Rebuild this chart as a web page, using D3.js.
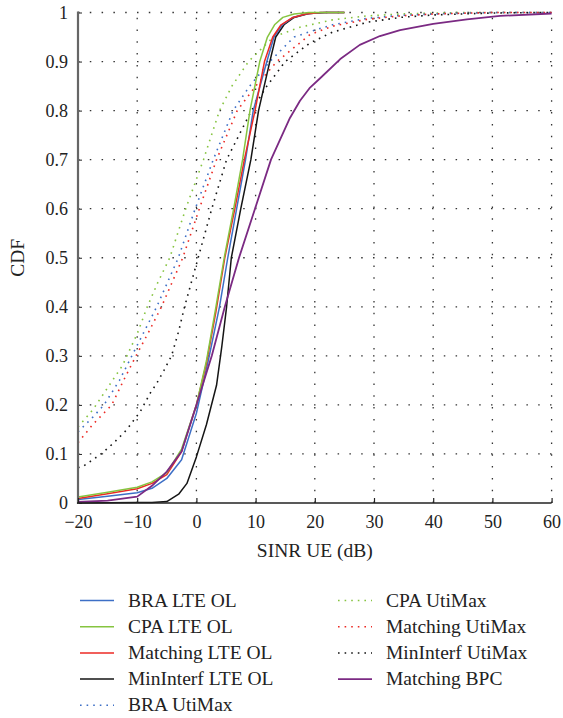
<!DOCTYPE html>
<html>
<head>
<meta charset="utf-8">
<title>CDF of SINR UE</title>
<script src="https://cdn.jsdelivr.net/npm/d3@7"></script>
<style type="text/css">
	body{ margin:0; background:#fff; }
	.domain{ display:none; }
</style>
</head>
<body>
<div id="chart"></div>
<script type="text/javascript">
/* series values: [SINR dB, CDF] */
var bra_lte = [[-20,0.007],[-15,0.014],[-10,0.021],[-7.5,0.03],[-5,0.05],[-2.5,0.088],[0,0.183],[2,0.29],[3.9,0.4],[5.3,0.5],[6.8,0.6],[8.3,0.7],[9.6,0.8],[11.9,0.9],[13.1,0.95],[14.5,0.975],[16.3,0.99],[18.5,0.997],[21,1],[25,1]];
var cpa_lte = [[-20,0.012],[-15,0.022],[-10,0.032],[-7.5,0.043],[-5,0.062],[-2.5,0.11],[0,0.2],[1.7,0.29],[3.3,0.4],[4.7,0.5],[6.3,0.6],[7.8,0.7],[9.05,0.8],[10.7,0.9],[12,0.95],[13.2,0.975],[14.6,0.99],[16.5,0.997],[19,1],[25,1]];
var matching_lte = [[-20,0.009],[-15,0.019],[-10,0.029],[-7.5,0.04],[-5,0.058],[-2.5,0.105],[0,0.2],[1.7,0.285],[3.3,0.39],[4.8,0.5],[6.5,0.6],[8.1,0.7],[9.9,0.8],[11.5,0.9],[12.9,0.95],[14.3,0.975],[16.3,0.99],[18.5,0.997],[21,1],[25,1]];
var mininterf_lte = [[-20,0],[-10,0.001],[-7.5,0.001],[-5,0.003],[-3,0.018],[-1.6,0.04],[0,0.094],[1.7,0.16],[3.4,0.24],[4.3,0.32],[5.1,0.4],[5.9,0.5],[7.5,0.6],[9.2,0.7],[10.5,0.8],[12.4,0.9],[13.4,0.95],[14.8,0.975],[16.5,0.99],[19,0.998],[22,1],[25,1]];
var bra_uti = [[-20,0.145],[-17.5,0.175],[-15.6,0.2],[-13,0.25],[-10.9,0.3],[-8.8,0.35],[-6.7,0.4],[-3.05,0.5],[-0.2,0.6],[2.85,0.7],[6.2,0.8],[9,0.85],[12.4,0.9],[16.5,0.95],[19.2,0.961],[23,0.975],[28.8,0.988],[34.4,0.994],[40,0.997],[50,1],[60,1]];
var cpa_uti = [[-20,0.155],[-17.5,0.19],[-15,0.235],[-12.5,0.28],[-10,0.345],[-8.3,0.4],[-6.5,0.45],[-4.5,0.5],[-1.8,0.6],[1.2,0.7],[3.9,0.8],[6,0.85],[8.8,0.9],[13,0.95],[17.5,0.97],[23,0.985],[28.8,0.993],[34.4,0.997],[45,1],[60,1]];
var matching_uti = [[-20,0.123],[-17.5,0.16],[-14.3,0.2],[-12.3,0.25],[-10.2,0.3],[-8,0.35],[-5.9,0.4],[-2.3,0.5],[0.5,0.6],[3.4,0.7],[6.9,0.8],[10,0.85],[13.6,0.9],[19.2,0.955],[23,0.972],[28.8,0.986],[34.4,0.993],[40,0.997],[50,1],[60,1]];
var mininterf_uti = [[-20,0.072],[-19.1,0.075],[-16.3,0.098],[-14,0.122],[-11.8,0.149],[-9.5,0.186],[-7.8,0.224],[-6.7,0.244],[-5.5,0.27],[-4.2,0.3],[-3,0.35],[-2,0.4],[0.3,0.5],[2.6,0.6],[5.1,0.7],[9.3,0.8],[11.9,0.85],[15,0.9],[19.2,0.938],[23,0.96],[28.8,0.98],[34.4,0.99],[40,0.995],[50,0.999],[60,1]];
var matching_bpc = [[-20,0.002],[-15,0.005],[-10,0.013],[-7.5,0.035],[-5,0.064],[-2.5,0.105],[0,0.2],[2.6,0.3],[4.8,0.4],[7.2,0.5],[9.9,0.6],[12.6,0.7],[15.8,0.785],[17.5,0.82],[19.2,0.847],[20.9,0.866],[24.3,0.905],[27.6,0.934],[31,0.952],[34.4,0.964],[40,0.977],[45.7,0.986],[51.3,0.993],[60,0.998]];

var x_ticks = [-20,-10,0,10,20,30,40,50,60];
var y_ticks = [0,0.1,0.2,0.3,0.4,0.5,0.6,0.7,0.8,0.9,1];

/* legend order: name, data, colour, dotted */
var series = [
	{name:"BRA LTE OL", data:bra_lte, color:"#3d6fc6", dot:false},
	{name:"CPA LTE OL", data:cpa_lte, color:"#86c440", dot:false},
	{name:"Matching LTE OL", data:matching_lte, color:"#ec2a24", dot:false},
	{name:"MinInterf LTE OL", data:mininterf_lte, color:"#151515", dot:false},
	{name:"BRA UtiMax", data:bra_uti, color:"#3d6fc6", dot:true},
	{name:"CPA UtiMax", data:cpa_uti, color:"#86c440", dot:true},
	{name:"Matching UtiMax", data:matching_uti, color:"#ec2a24", dot:true},
	{name:"MinInterf UtiMax", data:mininterf_uti, color:"#151515", dot:true},
	{name:"Matching BPC", data:matching_bpc, color:"#7b2a83", dot:false}
];
/* drawing order: the dotted ones first, BPC after the solid ones */
var draw_order = [5,4,6,7,3,0,2,1,8];
var serif = "Liberation Serif";

var W = 563, H = 718;
var svg = d3.select("#chart").append("svg").attr("width",W).attr("height",H)
	.attr("font-family",serif);

var x_scale = d3.scaleLinear().domain([-20,60]).range([78,551.6]);
var y_scale = d3.scaleLinear().domain([0,1]).range([503,12.5]);

/* dotted grid */
var grid = svg.append("g");
grid.selectAll(".hg").data(y_ticks.slice(1)).enter().append("line")
	.attr("x1",x_scale(-20)).attr("x2",x_scale(60))
	.attr("y1",function(d){ return y_scale(d); }).attr("y2",function(d){ return y_scale(d); })
	.attr("stroke","#333").attr("stroke-width",1.3).attr("stroke-dasharray","1.5,10.3");
grid.selectAll(".vg").data(x_ticks.slice(1)).enter().append("line")
	.attr("y1",y_scale(0)).attr("y2",y_scale(1))
	.attr("x1",function(d){ return x_scale(d); }).attr("x2",function(d){ return x_scale(d); })
	.attr("stroke","#333").attr("stroke-width",1.3).attr("stroke-dasharray","1.5,10.3");

/* curves */
var line = d3.line().x(function(d){ return x_scale(d[0]); }).y(function(d){ return y_scale(d[1]); });
var curves = svg.append("g").attr("fill","none");
draw_order.forEach(function(i){
	var s = series[i];
	curves.append("path").attr("d",line(s.data))
		.attr("stroke",s.color)
		.attr("stroke-width",s.dot ? 1.6 : (s.name=="Matching BPC" ? 1.8 : 1.5))
		.attr("stroke-dasharray",s.dot ? "1.6,5" : null)
		.attr("stroke-linejoin","round");
});

/* axes, ticks pointing inward */
var y_axis = d3.axisLeft(y_scale).tickValues(y_ticks).tickSizeInner(-4).tickSizeOuter(0).tickPadding(10)
	.tickFormat(function(d){ return d==0 ? "0" : d==1 ? "1" : d3.format(".1f")(d); });
var ya = svg.append("g").attr("transform","translate("+x_scale(-20)+",0)").call(y_axis)
	.attr("font-family",serif).attr("font-size",18);
ya.selectAll("text").attr("fill","#222");
ya.selectAll(".tick line").attr("stroke","#222");
svg.append("line").attr("x1",x_scale(-20)).attr("x2",x_scale(-20)).attr("y1",y_scale(0)+1).attr("y2",y_scale(1)-1)
	.attr("stroke","#666").attr("stroke-width",2.2);

var x_axis = d3.axisBottom(x_scale).tickValues(x_ticks).tickSizeInner(-5).tickSizeOuter(0).tickPadding(12);
var xa = svg.append("g").attr("transform","translate(0,"+y_scale(0)+")").call(x_axis)
	.attr("font-family",serif).attr("font-size",18);
xa.selectAll("text").attr("fill","#222");
xa.selectAll(".tick line").attr("stroke","#222").attr("stroke-width",1.2);
svg.append("line").attr("x1",x_scale(-20)-1).attr("x2",x_scale(60)).attr("y1",y_scale(0)).attr("y2",y_scale(0))
	.attr("stroke","#222").attr("stroke-width",1.5);

/* axis titles */
svg.append("text").attr("x",(x_scale(-20)+x_scale(60))/2).attr("y",557).attr("text-anchor","middle")
	.attr("font-size",19.5).attr("fill","#222").text("SINR UE (dB)");
svg.append("text").attr("transform","translate(24,"+y_scale(0.5)+") rotate(-90)").attr("text-anchor","middle")
	.attr("font-size",19.5).attr("fill","#222").text("CDF");

/* legend, two columns */
var legend = svg.append("g");
series.forEach(function(s,i){
	var col = i < 5 ? 0 : 1;
	var row = i < 5 ? i : i-5;
	var lx = col==0 ? 80 : 338;
	var ly = 600.5 + row*26.2;
	legend.append("line").attr("x1",lx).attr("x2",lx+34).attr("y1",ly).attr("y2",ly)
		.attr("stroke",s.color).attr("stroke-width",s.name=="Matching BPC" ? 1.8 : 1.5)
		.attr("stroke-dasharray",s.dot ? "1.6,5" : null);
	legend.append("text").attr("x",lx+48).attr("y",ly+6).attr("font-size",19.5).attr("fill","#222").text(s.name);
});
</script>
</body>
</html>
